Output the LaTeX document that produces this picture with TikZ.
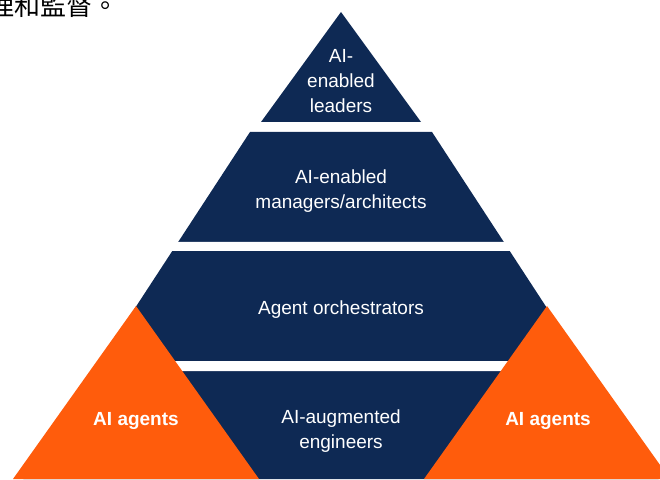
\documentclass[tikz,border=0pt]{standalone}
\usepackage{fontspec}
\setmainfont{Liberation Sans}
\newfontfamily\cjkfont{Noto Sans CJK TC}
\usepackage{tikz}
\definecolor{navy}{RGB}{14,41,84}
\definecolor{agentorange}{RGB}{255,92,12}

\begin{document}
\begin{tikzpicture}[x=1pt,y=1pt,
  tier label/.style={text=white,font=\fontsize{19}{25}\selectfont,align=center},
  agent label/.style={tier label,font=\fontsize{19}{25}\selectfont\bfseries}]
    \useasboundingbox (0,0) rectangle (660,479);
    \clip (0,0) rectangle (660,479);
    \fill[navy] (341,467) -- (261,357) -- (421,357) -- cycle;
    \fill[navy] (250,347) -- (432,347) -- (658.6,0) -- (23.4,0) -- cycle;
    \fill[white] (0,228) rectangle (660,237)
                 (0,108) rectangle (660,118);
    \fill[agentorange] (136,173) -- (13,0) -- (259,0) -- cycle;
    \fill[agentorange] (547,173) -- (424,0) -- (670,0) -- cycle;
    \node[anchor=base east,inner sep=0,font=\cjkfont\fontsize{26}{26}\selectfont](note) at (119,463){理和監督。};
    \node[tier label](leaders) at (341,398){AI-\\enabled\\leaders};
    \node[tier label](managers) at (341,288){AI-enabled\\managers/architects};
    \node[tier label](orchestrators) at (341,169){Agent orchestrators};
    \node[tier label](engineers) at (341,48){AI-augmented\\engineers};
    \node[agent label](agents left) at (136,58){AI agents};
    \node[agent label](agents right) at (548,58){AI agents};
\end{tikzpicture}
\end{document}
